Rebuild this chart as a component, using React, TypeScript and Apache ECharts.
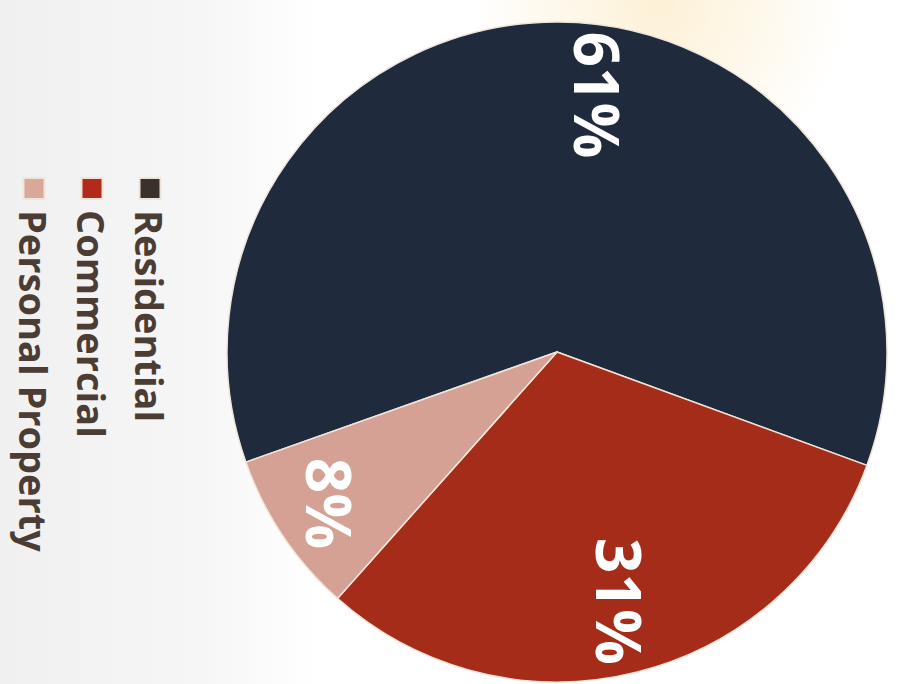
import React, { useEffect, useRef } from "react";
import * as echarts from "echarts";

const categories = ["Residential", "Commercial", "Personal Property"];
const shares = [61, 31, 8];
const sliceColors = ["#1f2a3c", "#a62c1a", "#d4a194"];
const legendColors = ["#3b312c", "#b12a1c", "#d8a898"];

export default function App() {
  const ref = useRef<HTMLDivElement>(null);

  useEffect(() => {
    document.body.style.margin = "0";
    if (!ref.current) return;
    const chart = echarts.init(ref.current, undefined, { renderer: "svg" });
    const font = "'Open Sans', 'DejaVu Sans', sans-serif";
    const center = [352, 341];
    const R = 330;
    chart.setOption({
      animation: false,
      legend: {
        orient: "vertical",
        left: 172,
        top: 724,
        height: 200,
        itemWidth: 21,
        itemHeight: 21,
        itemGap: 20,
        selectedMode: false,
        icon: "rect",
        data: categories.map((name, i) => ({
          name,
          itemStyle: { color: legendColors[i] },
        })),
        textStyle: {
          fontSize: 38,
          lineHeight: 38,
          fontFamily: font,
          fontWeight: 700,
          color: "#4b3c34",
          padding: [0, 0, 0, 6],
        },
      },
      series: [
        {
          type: "pie",
          center,
          radius: [0, R],
          startAngle: -70.5,
          clockwise: true,
          label: { show: false },
          labelLine: { show: false },
          itemStyle: { borderColor: "#efe4d8", borderWidth: 1.5 },
          data: categories.map((name, i) => ({
            name,
            value: shares[i],
            itemStyle: { color: sliceColors[i] },
          })),
        },
        {
          type: "pie",
          center,
          radius: [R * 0.54, R],
          startAngle: -70.5,
          clockwise: true,
          silent: true,
          itemStyle: { color: "rgba(0,0,0,0)", borderWidth: 0 },
          label: {
            show: true,
            position: "inside",
            formatter: "{c}%",
            color: "#ffffff",
            fontSize: 62,
            fontWeight: 700,
            fontFamily: font,
          },
          labelLine: { show: false },
          data: categories.map((name, i) => ({
            name,
            value: shares[i],
            label: i === 0 ? { offset: [0, -40] } : i === 2 ? { offset: [8, 14] } : {},
          })),
        },
      ],
    });
    return () => chart.dispose();
  }, []);

  return (
    <div
      style={{
        position: "relative",
        width: 898,
        height: 684,
        overflow: "hidden",
        background:
          "radial-gradient(circle at 660px 0px, #fdf1d6 0px, rgba(255,255,255,0) 190px), linear-gradient(90deg, #f1f0f1 0px, #f7f6f7 200px, #ffffff 320px)",
      }}
    >
      <div
        ref={ref}
        style={{
          position: "absolute",
          left: 0,
          top: 0,
          width: 684,
          height: 898,
          transformOrigin: "0 0",
          transform: "translate(898px, 0px) rotate(90deg)",
        }}
      />
    </div>
  );
}
